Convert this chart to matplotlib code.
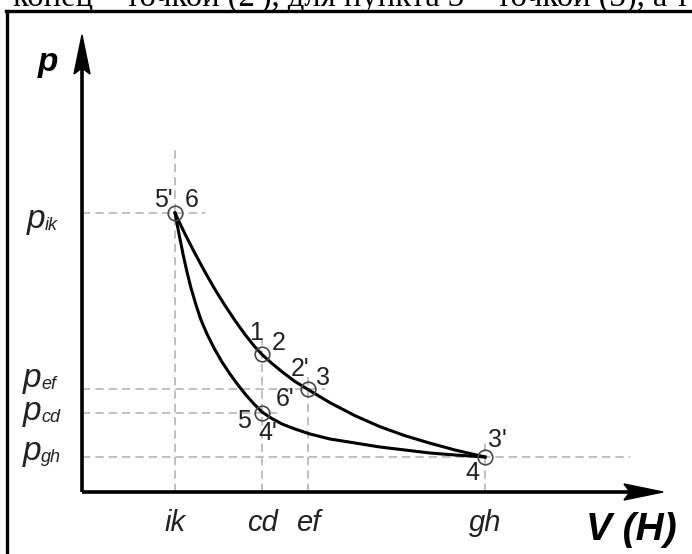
import numpy as np
import matplotlib
matplotlib.use('Agg')
import matplotlib.pyplot as plt
from matplotlib.patches import Polygon
from matplotlib.lines import Line2D

# characteristic volumes / pressures (arbitrary units)
v_names = ['ik', 'cd', 'ef', 'gh']
v_vals = [9.3, 18.0, 22.6, 40.3]
p_names = ['ik', 'ef', 'cd', 'gh']
p_vals = [27.9, 10.3, 7.9, 3.5]

# upper curve 6 -> 1,2 -> 2',3 -> 4
upper_v = [9.3, 10.3, 11.3, 12.3, 13.3, 14.3, 15.3, 16.3, 17.3, 18.0, 19.0, 20.1, 21.3,
           22.6, 24.8, 27.3, 29.8, 32.3, 34.8, 37.3, 40.3]
upper_p = [27.9, 25.8, 23.85, 22.0, 20.25, 18.65, 17.15, 15.75, 14.5, 13.75, 12.85, 11.95,
           11.05, 10.25, 8.93, 7.63, 6.53, 5.63, 4.88, 4.2, 3.5]
# lower curve 5' -> 5,4' -> 3'
lower_v = [9.3, 9.7, 10.1, 10.5, 10.9, 11.4, 11.9, 12.5, 13.2, 14.0, 14.8, 15.6, 16.4, 17.2,
           18.0, 18.9, 20.0, 21.3, 22.8, 24.8, 27.3, 29.8, 32.3, 34.8, 37.3, 40.3]
lower_p = [27.9, 25.8, 23.8, 22.0, 20.4, 18.7, 17.2, 15.8, 14.4, 13.0, 11.8, 10.7, 9.7, 8.8,
           8.0, 7.4, 6.8, 6.3, 5.8, 5.3, 4.9, 4.5, 4.2, 3.9, 3.7, 3.5]

# marked states
pt_v = [9.3, 18.0, 22.6, 18.0, 40.3]
pt_p = [27.9, 13.8, 10.3, 7.9, 3.5]

# point labels
lab_txt = ["5'", "6", "1", "2", "2'", "3", "6'", "5", "4'", "3'", "4"]
lab_v = [8.1, 11.0, 17.4, 19.7, 21.8, 24.1, 20.3, 16.2, 18.6, 41.5, 39.0]
lab_p = [29.2, 29.2, 15.9, 14.9, 12.3, 11.4, 9.3, 7.1, 5.9, 5.2, 1.9]

# dashed guide lengths
v_guide_top = [34.2, 15.4, 12.0, 5.2]
p_guide_right = [12.3, 24.3, 20.0, 54.8]

fig = plt.figure(figsize=(6.92, 5.54), dpi=100)
ax = fig.add_axes([0, 0, 1, 1])
ax.set_xlim(-8.2, 61.0)
ax.set_ylim(-6.2, 49.2)
ax.axis('off')

sans = 'Liberation Sans'
dash_kw = dict(color='#b5b5b5', lw=1.2, dashes=(5, 3), zorder=1)

for v, top in zip(v_vals, v_guide_top):
    ax.plot([v, v], [0, top], **dash_kw)
for p, right in zip(p_vals, p_guide_right):
    ax.plot([0, right], [p, p], **dash_kw)

# axes with arrows
ax.plot([0, 0], [0, 42.5], color='black', lw=2.6, solid_capstyle='butt', zorder=3)
ax.plot([0, 55.0], [0, 0], color='black', lw=2.6, solid_capstyle='butt', zorder=3)
ax.add_patch(Polygon([(0, 45.7), (-0.8, 41.8), (0, 42.4), (0.8, 41.8)], closed=True,
                     color='black', zorder=4))
ax.add_patch(Polygon([(58.1, 0), (54.2, 0.8), (54.8, 0), (54.2, -0.8)], closed=True,
                     color='black', zorder=4))

ax.plot(upper_v, upper_p, color='black', lw=2.2, zorder=5, solid_joinstyle='round')
ax.plot(lower_v, lower_p, color='black', lw=2.2, zorder=5, solid_joinstyle='round')
ax.plot(pt_v, pt_p, 'o', ms=10.5, mfc='none', mec='#484848', mew=1.2, zorder=6)

for t, v, p in zip(lab_txt, lab_v, lab_p):
    ax.text(v, p, t, ha='center', va='center', fontsize=18, family=sans, color='#222222')

# V ticks
for name, v in zip(v_names, v_vals):
    ax.text(v, -3.9, name, ha='center', va='baseline', fontsize=21, style='italic',
            family=sans, color='#222222')

# p ticks: p + subscript
p_base = [26.4, 10.5, 7.2, 3.2]
p_left = [-5.5, -5.9, -5.9, -5.9]
for name, base, left in zip(p_names, p_base, p_left):
    ax.text(left, base, 'p', ha='left', va='baseline', fontsize=24, style='italic',
            family=sans, color='#222222')
    ax.text(left + 1.8, base - 0.2, name, ha='left', va='baseline', fontsize=13,
            style='italic', family=sans, color='#222222')

ax.text(-3.4, 42.9, 'p', ha='center', va='center', fontsize=24, style='italic',
        weight='bold', family=sans)
ax.text(54.9, -3.8, 'V (H)', ha='center', va='center', fontsize=28, style='italic',
        weight='bold', family=sans)

# frame of the scanned figure
fig.add_artist(Line2D([6 / 692, 1], [1 - 11 / 554, 1 - 11 / 554], color='black', lw=2.4))
fig.add_artist(Line2D([6.5 / 692, 6.5 / 692], [0, 1 - 11 / 554], color='black', lw=2.4))

# cut-off line of text above the figure
fig.text(13 / 692, 1 - 6 / 554, "конец – точкой (2'), для пункта 3 – точкой (3), а т",
         ha='left', va='baseline', fontsize=23.5, family='Liberation Serif')

fig.savefig('out.png', dpi=100)
